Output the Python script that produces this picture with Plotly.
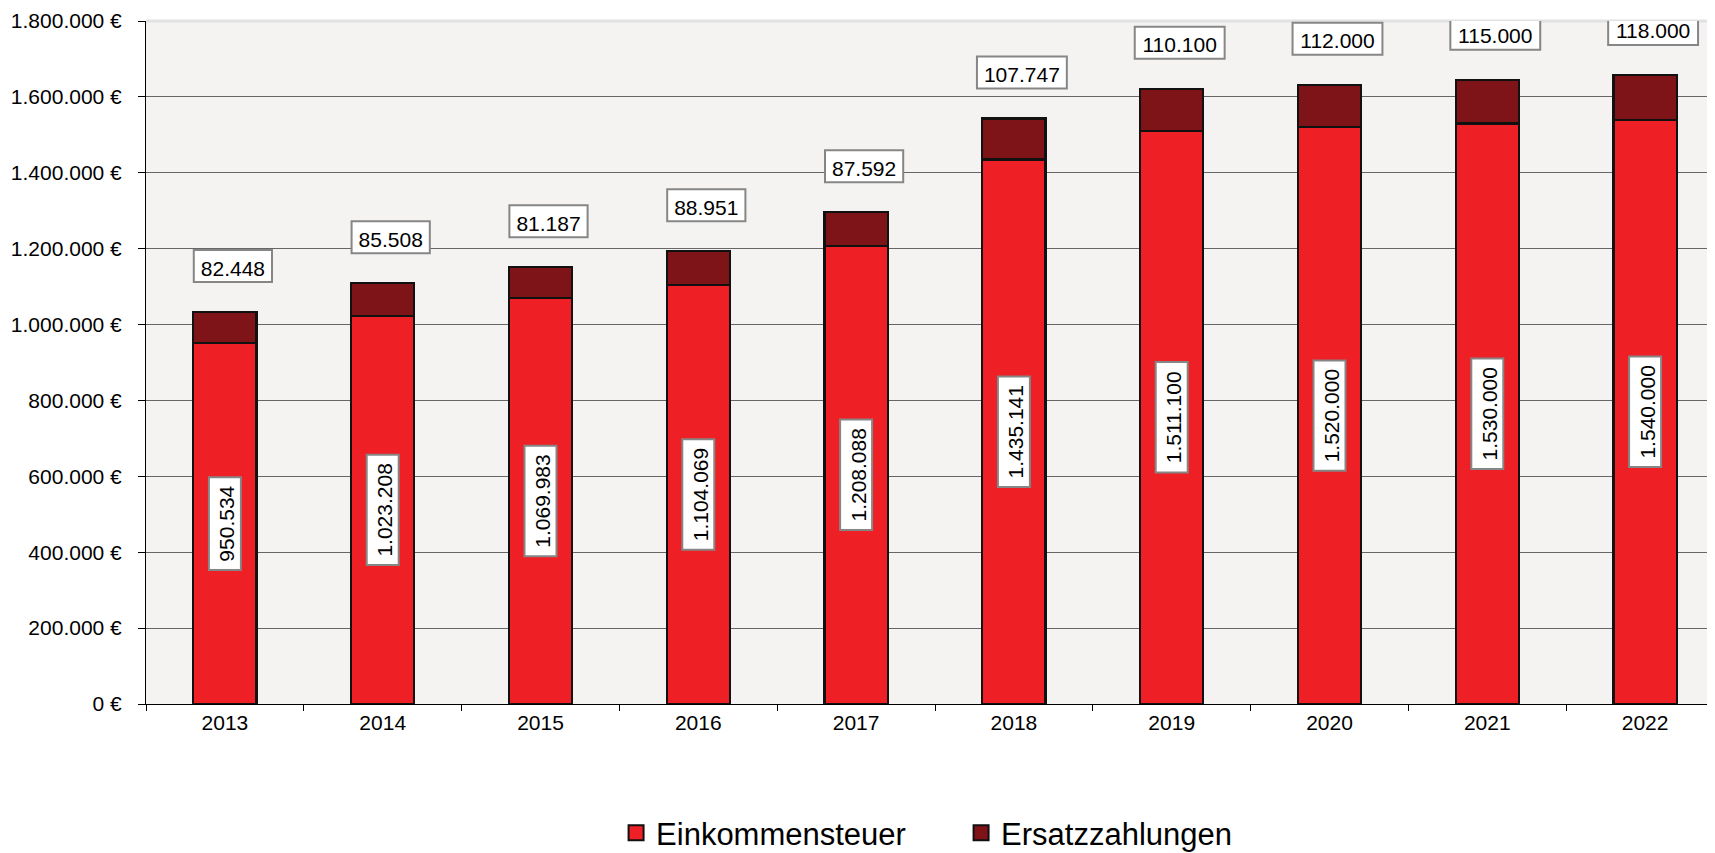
import plotly.graph_objects as go

years = ["2013", "2014", "2015", "2016", "2017", "2018", "2019", "2020", "2021", "2022"]
einkommensteuer = [950534, 1023208, 1069983, 1104069, 1208088, 1435141, 1511100, 1520000, 1530000, 1540000]
ersatzzahlungen = [82448, 85508, 81187, 88951, 87592, 107747, 110100, 112000, 115000, 118000]
y_ticks = [0, 200000, 400000, 600000, 800000, 1000000, 1200000, 1400000, 1600000, 1800000]

FONT = "Liberation Sans"
RED = "#EE1F25"
DARK = "#7F1418"
EDGE = "#111111"
LABEL_SIZE = 21

# layout geometry (pixels); the page body adds an 8px offset, so the figure is sized to fit the window
W, H = 1707, 845
M_L, M_R, M_T, M_B = 138, 0, 13, 149
X_RANGE = [-0.5, 9.443]
Y_RANGE = [0, 1800000]
PX_X = (W - M_L - M_R) / (X_RANGE[1] - X_RANGE[0])   # px per category unit
PX_Y = (H - M_T - M_B) / (Y_RANGE[1] - Y_RANGE[0])   # px per euro


def de(v):
    return f"{v:,}".replace(",", ".")


def text_px(s):
    # approximate rendered width of a numeric label in Liberation Sans
    return sum(0.278 if c == "." else 0.556 for c in s) * LABEL_SIZE


y_ticktext = [de(v) + "\u00a0\u20ac" for v in y_ticks]
pos = list(range(len(years)))

fig = go.Figure()
fig.add_trace(go.Bar(x=pos, y=einkommensteuer, name="Einkommensteuer", width=0.4, showlegend=False,
                     marker=dict(color=RED, line=dict(color=EDGE, width=2.2))))
fig.add_trace(go.Bar(x=pos, y=ersatzzahlungen, name="Ersatzzahlungen", width=0.4, showlegend=False,
                     marker=dict(color=DARK, line=dict(color=EDGE, width=2.2))))
# legend entries (larger square swatches, as in the original)
for name, col in (("Einkommensteuer", RED), ("Ersatzzahlungen", DARK)):
    fig.add_trace(go.Scatter(x=[None], y=[None], mode="markers", name=name, showlegend=True,
                             hoverinfo="skip",
                             marker=dict(symbol="square", size=15, color=col,
                                         line=dict(color=EDGE, width=2))))

shapes = [dict(type="line", xref="paper", yref="paper", x0=0, x1=1, y0=1, y1=1,
               line=dict(color="#E2E2E2", width=3), layer="above")]
label_font = dict(family=FONT, size=LABEL_SIZE, color="#000000")
box_line = dict(color="#868686", width=2)
for i, e, z in zip(pos, einkommensteuer, ersatzzahlungen):
    # rotated value label centred in the Einkommensteuer segment
    t = de(e)
    half = (text_px(t) + 17) / 2
    shapes.append(dict(
        type="rect", xref="x", yref="y", layer="above",
        x0=i - 16 / PX_X, x1=i + 16 / PX_X,
        y0=e / 2 - half / PX_Y, y1=e / 2 + half / PX_Y,
        fillcolor="#FFFFFF", line=box_line,
        label=dict(text=t, textangle=-90, font=label_font, textposition="middle center")))
    # value label above the stacked bar
    t = de(z)
    half = (text_px(t) + 14) / 2
    top = e + z
    shapes.append(dict(
        type="rect", xref="x", yref="y", layer="above",
        x0=i + (8 - half) / PX_X, x1=i + (8 + half) / PX_X,
        y0=top + 30 / PX_Y, y1=top + 62 / PX_Y,
        fillcolor="#FFFFFF", line=box_line,
        label=dict(text=t, textangle=0, font=label_font, textposition="middle center")))

fig.update_layout(
    width=W, height=H,
    margin=dict(l=M_L, r=M_R, t=M_T, b=M_B, autoexpand=False),
    paper_bgcolor="#FFFFFF", plot_bgcolor="#F4F3F1",
    barmode="stack",
    font=dict(family=FONT, size=21, color="#000000"),
    showlegend=True,
    legend=dict(orientation="h", x=0.2996, xanchor="left", y=-0.189, yanchor="middle",
                font=dict(family=FONT, size=31, color="#000000"), traceorder="normal",
                entrywidth=300, itemsizing="trace", bgcolor="rgba(0,0,0,0)"),
    shapes=shapes,
)
fig.update_xaxes(
    range=X_RANGE, showgrid=False, zeroline=False,
    showline=True, linecolor="#000000", linewidth=1,
    tickmode="array", tickvals=pos, ticktext=years, ticks="",
    minor=dict(tickmode="array", tickvals=[p - 0.5 for p in pos] + [pos[-1] + 0.5],
               ticks="outside", ticklen=6, tickcolor="#000000", showgrid=False),
    tickfont=dict(family=FONT, size=21, color="#000000"))
fig.update_yaxes(
    range=Y_RANGE, tickmode="array", tickvals=y_ticks, ticktext=y_ticktext,
    showgrid=True, gridcolor="#666666", gridwidth=1,
    showline=True, linecolor="#000000", linewidth=1, zeroline=False,
    ticks="outside", ticklen=7, tickcolor="#000000", ticklabelstandoff=12,
    tickfont=dict(family=FONT, size=21, color="#000000"))

fig.write_html("out.html")
